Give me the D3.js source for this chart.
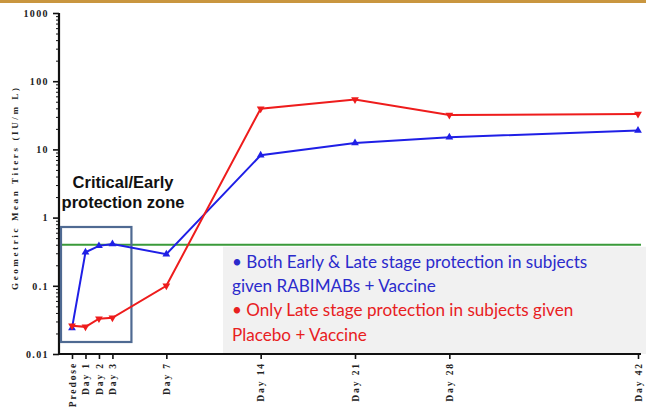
<!DOCTYPE html>
<html>
<head>
<meta charset="utf-8">
<script src="https://cdn.jsdelivr.net/npm/d3@7"></script>
<style>
  html, body { margin: 0; padding: 0; background: #fff; }
  svg { display: block; }
</style>
</head>
<body>
<svg id="chart" width="646" height="412"></svg>
<script>
// ---- data ----
const categories = ["Predose", "Day 1", "Day 2", "Day 3", "Day 7", "Day 14", "Day 21", "Day 28", "Day 42"];
const days = [0, 1, 2, 3, 7, 14, 21, 28, 42];
const rabimabValues = [0.024, 0.31, 0.385, 0.41, 0.29, 8.2, 12.4, 15.1, 18.9];
const placeboValues = [0.026, 0.025, 0.033, 0.034, 0.1, 39.5, 54, 32, 33];
const yTickValues = [0.01, 0.1, 1, 10, 100, 1000];
const yTickLabels = ["0.01", "0.1", "1", "10", "100", "1000"];
const threshold = [0.4];
const yAxisTitle = "Geometric Mean Titers (IU/m L)";
const zoneLabel = ["Critical/Early", "protection zone"];
const noteLines = [
  { text: "\u2022 Both Early & Late stage protection in subjects", group: "rabimab" },
  { text: "given RABIMABs + Vaccine", group: "rabimab" },
  { text: "\u2022 Only Late stage protection in subjects given", group: "placebo" },
  { text: "Placebo + Vaccine", group: "placebo" }
];
const zoneDays = ["Predose", "Day 3"];

// ---- styles ----
const colors = { rabimab: "#1f1fe6", placebo: "#ee1c1c", rabimabText: "#2b2bcc", placeboText: "#e8201e",
                 green: "#3a9a3a", box: "#4f6a92", note: "#f1f1f1", gold: "#c9963f" };

const svg = d3.select("#chart");

// top gold band
svg.append("rect").attr("x", 0).attr("y", 0).attr("width", 646).attr("height", 3).attr("fill", colors.gold);

const x = d3.scaleLinear().domain([0, 42]).range([72, 638]);
const y = d3.scaleLog().domain([0.01, 1000]).range([354, 13]);
const axisX = 59, axisRight = 641;

// note background box
svg.append("rect")
  .attr("x", 223).attr("y", y(threshold[0]) + 2)
  .attr("width", 646 - 223).attr("height", y(0.01) - y(threshold[0]) - 2)
  .attr("fill", colors.note);

// threshold line
svg.append("line")
  .attr("x1", axisX).attr("x2", axisRight)
  .attr("y1", y(threshold[0])).attr("y2", y(threshold[0]))
  .attr("stroke", colors.green).attr("stroke-width", 2);

// y axis
const yAxisG = svg.append("g").attr("transform", `translate(${axisX},0)`);
const minorTicks = [];
for (let e = -2; e < 3; e++) for (let m = 2; m <= 9; m++) minorTicks.push(m * Math.pow(10, e));
yAxisG.call(d3.axisLeft(y).tickValues(minorTicks).tickSize(3).tickFormat(""))
  .call(g => g.select(".domain").remove())
  .call(g => g.selectAll("line").attr("stroke", "#111").attr("stroke-width", 1));
const yMajor = svg.append("g").attr("transform", `translate(${axisX},0)`)
  .call(d3.axisLeft(y).tickValues(yTickValues).tickSize(6).tickPadding(4)
        .tickFormat((d, i) => yTickLabels[i]));
yMajor.select(".domain").attr("stroke", "#111").attr("stroke-width", 2.2)
  .attr("d", `M0,${y(1000)}V${y(0.01)}`);
yMajor.selectAll("line").attr("stroke", "#111").attr("stroke-width", 1.6);
yMajor.selectAll("text")
  .attr("font-family", "Liberation Serif, serif").attr("font-weight", "bold")
  .attr("font-size", 10).attr("letter-spacing", 1.4).attr("fill", "#222");

// x axis
const xAxisG = svg.append("g").attr("transform", `translate(0,${y(0.01)})`)
  .call(d3.axisBottom(x).tickValues(days).tickSize(5).tickFormat((d, i) => categories[i]));
xAxisG.select(".domain").attr("stroke", "#111").attr("stroke-width", 2.2)
  .attr("d", `M${axisX - 1},0H${axisRight}`);
xAxisG.selectAll("line").attr("stroke", "#111").attr("stroke-width", 1.6);
xAxisG.selectAll("text")
  .attr("font-family", "Liberation Serif, serif").attr("font-weight", "bold")
  .attr("font-size", 9.5).attr("letter-spacing", 1.9).attr("fill", "#222")
  .attr("text-anchor", "end").attr("dy", "0.35em")
  .attr("transform", "translate(0,8) rotate(-90)")
  .attr("x", 0).attr("y", 0);

// y axis title
svg.append("text")
  .attr("transform", `translate(18,189) rotate(-90)`)
  .attr("text-anchor", "middle")
  .attr("font-family", "Liberation Serif, serif").attr("font-weight", "bold")
  .attr("font-size", 9).attr("fill", "#222")
  .attr("textLength", 202).attr("lengthAdjust", "spacing")
  .text(yAxisTitle);

// critical zone box
const zi0 = categories.indexOf(zoneDays[0]), zi1 = categories.indexOf(zoneDays[1]);
svg.append("rect")
  .attr("x", x(days[zi0]) - 11).attr("y", 227)
  .attr("width", x(days[zi1]) - x(days[zi0]) + 30).attr("height", 115)
  .attr("fill", "none").attr("stroke", colors.box).attr("stroke-width", 2.2);

// zone label
zoneLabel.forEach((t, i) => {
  svg.append("text")
    .attr("x", 123).attr("y", 188 + i * 20)
    .attr("text-anchor", "middle")
    .attr("font-family", "Liberation Sans, Arial, sans-serif").attr("font-weight", "bold")
    .attr("font-size", 16.5).attr("fill", "#111")
    .text(t);
});

// series
const series = [
  { key: "rabimab", values: rabimabValues, rot: 0 },
  { key: "placebo", values: placeboValues, rot: 180 }
];
const line = d3.line().x(d => x(d.day)).y(d => y(d.v));
series.forEach(s => {
  const pts = s.values.map((v, i) => ({ day: days[i], v }));
  svg.append("path").datum(pts).attr("d", line)
    .attr("fill", "none").attr("stroke", colors[s.key]).attr("stroke-width", 2);
  svg.selectAll(null).data(pts).enter().append("path")
    .attr("d", d3.symbol(d3.symbolTriangle, 26)())
    .attr("transform", d => `translate(${x(d.day)},${y(d.v)}) rotate(${s.rot})`)
    .attr("fill", colors[s.key]);
});

// note text
noteLines.forEach((l, i) => {
  svg.append("text")
    .attr("x", 232).attr("y", 268 + i * 24.2)
    .attr("font-family", "Lato, sans-serif")
    .attr("font-size", 17.1)
    .attr("fill", l.group === "rabimab" ? colors.rabimabText : colors.placeboText)
    .text(l.text);
});
</script>
</body>
</html>
